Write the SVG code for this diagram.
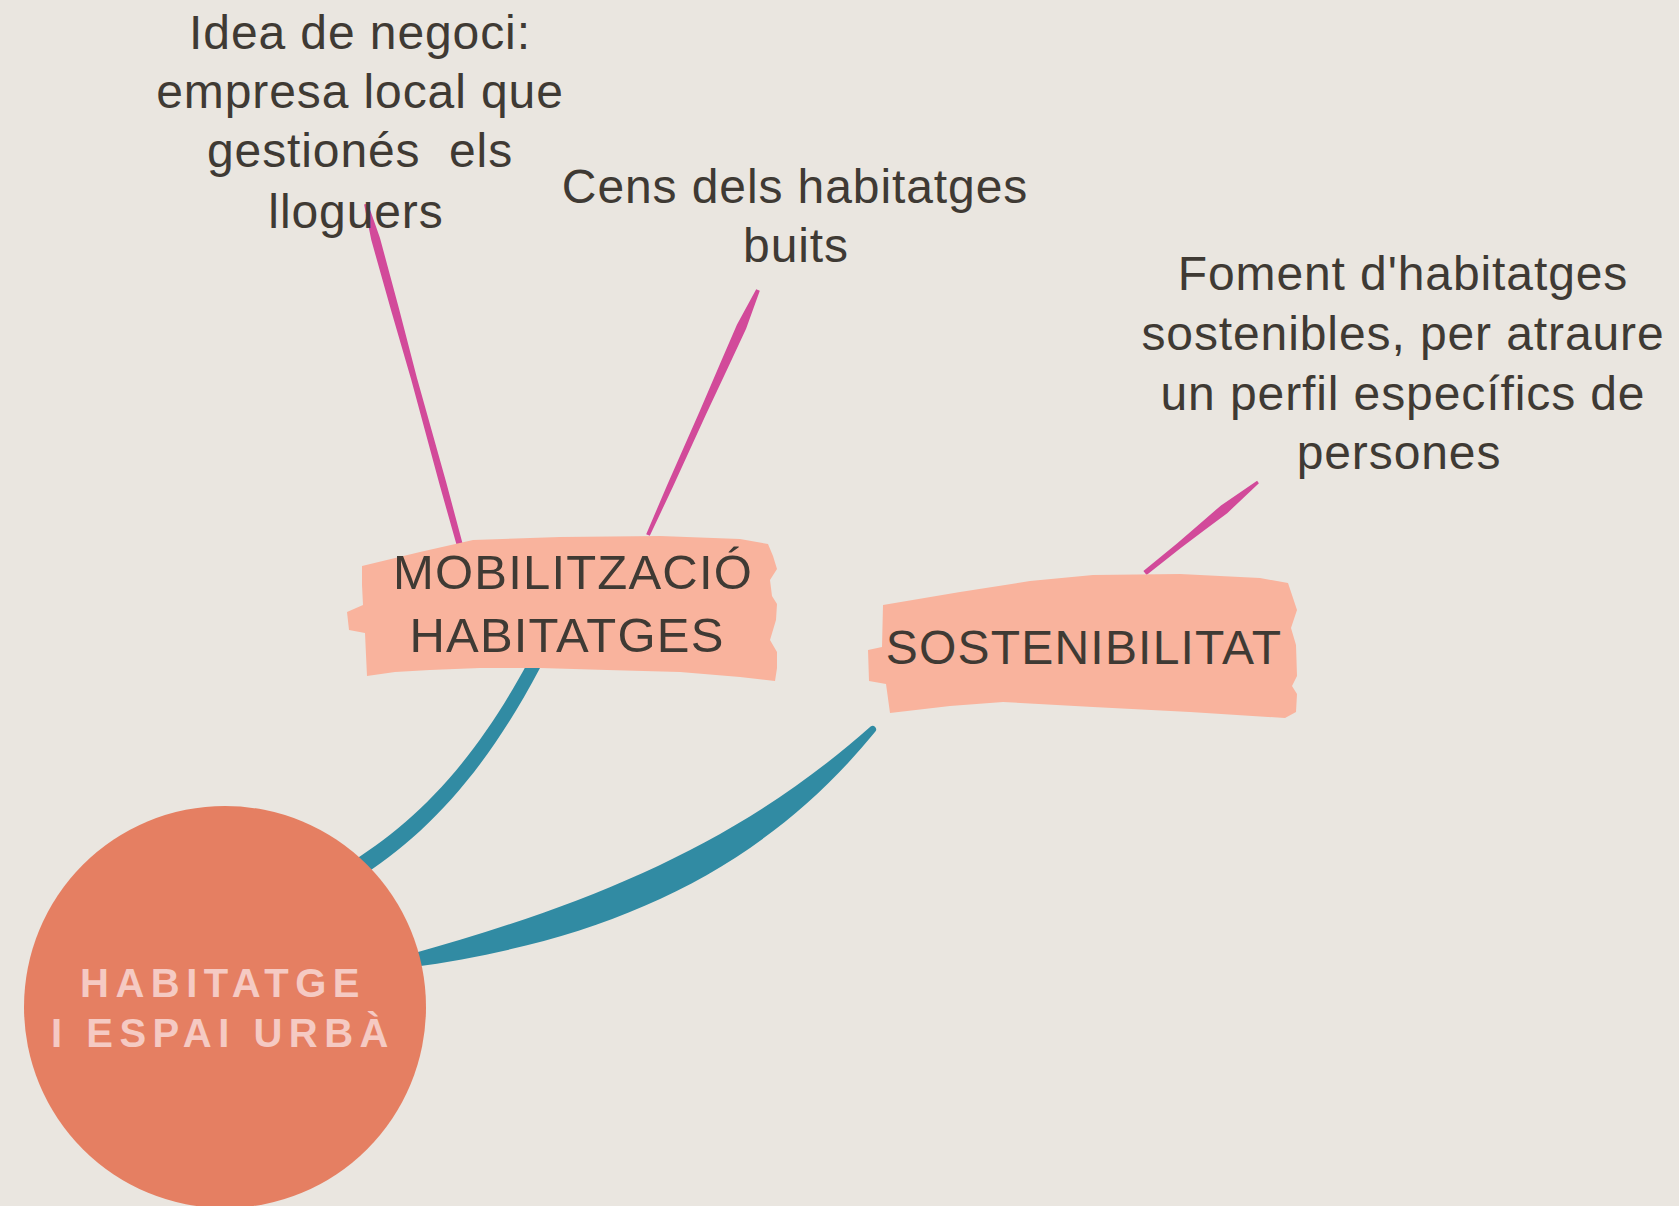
<svg xmlns="http://www.w3.org/2000/svg" width="1679" height="1206" viewBox="0 0 1679 1206">
  <style>
    .lbl { font-family: "Liberation Sans", Arial, sans-serif; font-size: 48px; fill: #3F3A34; text-anchor: middle; letter-spacing: 0.9px; }
    .node-txt { font-family: "Liberation Sans", Arial, sans-serif; fill: #3F3A34; text-anchor: middle; letter-spacing: 1.2px; }
    .hub-txt { font-family: "Liberation Sans", Arial, sans-serif; font-weight: bold; font-size: 40px; fill: #F5CAC3; text-anchor: middle; letter-spacing: 6.5px; }
    .brush { fill: #F9B39D; }
    .teal { fill: #318BA3; }
    .pink { fill: #D24A9A; }
  </style>
  <rect x="0" y="0" width="1679" height="1206" fill="#EAE6E0"/>

  <g id="connectors">
    <path class="teal" d="M345 866 C 410 826, 470 770, 528 662 L 540 668 C 482 778, 422 838, 356 880 Z"/>
    <path class="teal" d="M408.5 954.7 C 592.2 903.6, 740 843, 870.6 726.4 A 3.6 3.6 0 0 1 875.4 731.6 C 760 873, 607.8 940.4, 411.5 967.3 Z"/>
    <polygon class="pink" points="367.9,203.5 379.9,237.7 398.7,307.6 416.9,377.7 446.2,482.3 464.9,552.2 459.1,553.8 439.4,484.1 411.1,379.3 390.9,309.8 371.3,240.1 364.1,204.5"/>
    <polygon class="pink" points="759.8,290.8 746.1,328.8 729.1,365.3 706.2,413.9 672.7,487.2 649.8,535.8 646.2,534.2 667.3,484.8 699.8,411.1 720.9,361.7 736.9,324.7 756.2,289.2"/>
    <polygon class="pink" points="1258.9,483.2 1227.2,513.2 1204,530.6 1180.8,548 1146.6,574.9 1143.4,571.1 1177,543.4 1199,524.4 1221,505.4 1257.1,480.8"/>
  </g>

  <g id="node-hub">
    <circle cx="225" cy="1007" r="201" fill="#E57F62"/>
    <text class="hub-txt" x="223" y="997">HABITATGE</text>
    <text class="hub-txt" x="223" y="1047">I ESPAI URBÀ</text>
  </g>

  <g id="node-mobilitzacio">
    <path class="brush" d="M362 566 L420 552 L473 540 L560 537 L660 536 L740 539 L768 544 L773 556 L777 569 L770 580 L772 596 L777 604 L776 620 L770 640 L777 652 L777 668 L775 681 L740 677 L680 672 L607 670 L540 668 L480 668 L430 670 L395 672 L367 676 L366 655 L365 633 L349 630 L347 612 L363 605 L362 585 Z"/>
    <text class="node-txt" x="573" y="589" font-size="49">MOBILITZACIÓ</text>
    <text class="node-txt" x="567" y="652" font-size="49">HABITATGES</text>
  </g>

  <g id="node-sostenibilitat">
    <path class="brush" d="M883 605 L960 592 L1030 581 L1093 575 L1180 574 L1260 578 L1288 583 L1293 598 L1297 610 L1291 628 L1296 645 L1297 676 L1292 686 L1297 694 L1296 712 L1285 718 L1190 712 L1093 707 L1003 702 L950 706 L890 713 L886 684 L869 681 L868 650 L882 647 Z"/>
    <text class="node-txt" x="1084" y="664" font-size="48">SOSTENIBILITAT</text>
  </g>

  <g id="node-idea">
    <text class="lbl" x="360" y="49">Idea de negoci:</text>
    <text class="lbl" x="360" y="108">empresa local que</text>
    <text class="lbl" x="360" y="167" xml:space="preserve">gestionés  els</text>
    <text class="lbl" x="356" y="228">lloguers</text>
  </g>

  <g id="node-cens">
    <text class="lbl" x="795" y="203">Cens dels habitatges</text>
    <text class="lbl" x="796" y="262">buits</text>
  </g>

  <g id="node-foment">
    <text class="lbl" x="1403" y="290">Foment d'habitatges</text>
    <text class="lbl" x="1403" y="350">sostenibles, per atraure</text>
    <text class="lbl" x="1403" y="410">un perfil específics de</text>
    <text class="lbl" x="1399" y="469">persones</text>
  </g>
</svg>
